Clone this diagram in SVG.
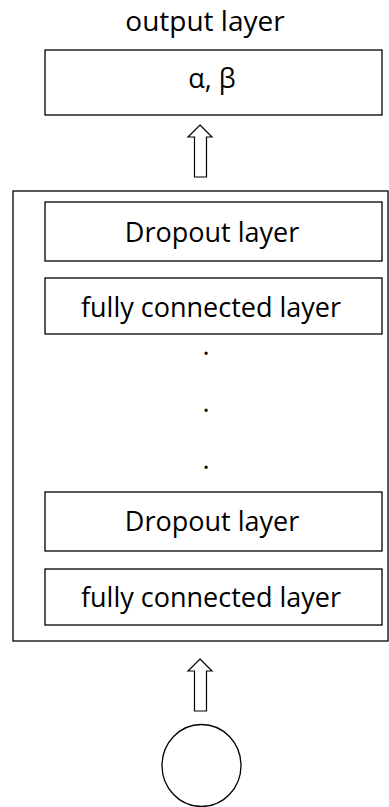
<svg xmlns="http://www.w3.org/2000/svg" width="389" height="807" viewBox="0 0 389 807">
<style>
.box{fill:#fff;stroke:#000;stroke-width:1.3}
.t{font-family:"Open Sans","Liberation Sans",sans-serif;font-size:27px;fill:#000;text-anchor:middle}
.arr{fill:#fff;stroke:#000;stroke-width:1.2;stroke-linejoin:miter}
</style>
<rect width="389" height="807" fill="#fff"/>
<g id="output">
<text class="t" x="205" y="31" style="font-size:28px">output layer</text>
<rect class="box" x="45" y="50" width="337" height="65"/>
<text class="t" x="212" y="88">α, β</text>
</g>
<g id="container">
<rect class="box" x="13" y="191" width="375" height="450"/>
</g>
<g id="dropout1">
<rect class="box" x="45" y="202" width="337" height="59"/>
<text class="t" x="212" y="242">Dropout layer</text>
</g>
<g id="fc1">
<rect class="box" x="45" y="278" width="337" height="56"/>
<text class="t" x="211" y="317">fully connected layer</text>
</g>
<g id="dots">
<text class="t" x="206" y="355">.</text>
<text class="t" x="206" y="412">.</text>
<text class="t" x="206" y="469">.</text>
</g>
<g id="dropout2">
<rect class="box" x="45" y="492" width="337" height="59"/>
<text class="t" x="212" y="531">Dropout layer</text>
</g>
<g id="fc2">
<rect class="box" x="45" y="569" width="337" height="56"/>
<text class="t" x="211" y="607">fully connected layer</text>
</g>
<g id="input">
<ellipse class="box" cx="201.5" cy="765.5" rx="39.5" ry="41"/>
</g>
<g id="connectors">
<polygon class="arr" points="200,125 212,137 206.5,137 206.5,177 194.5,177 194.5,137 188,137"/>
<polygon class="arr" points="200,659 212,671 206.5,671 206.5,711 194.5,711 194.5,671 188,671"/>
</g>
</svg>
